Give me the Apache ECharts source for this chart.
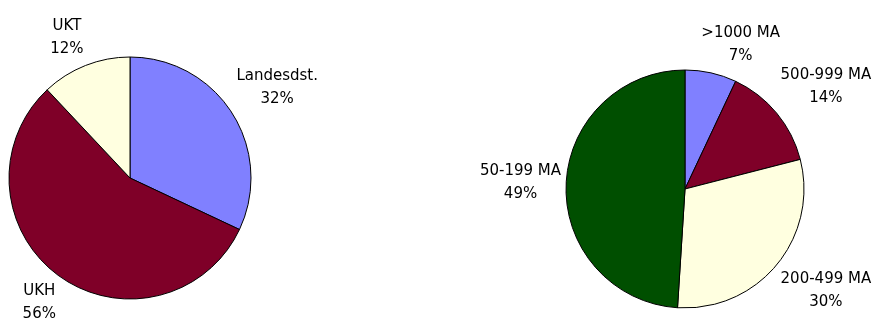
<!DOCTYPE html>
<html>
<head>
<meta charset="utf-8">
<script src="https://cdn.jsdelivr.net/npm/echarts@6/dist/echarts.min.js"></script>
<style>
  html, body { margin: 0; padding: 0; background: #fff; }
  #chart { width: 890px; height: 328px; }
</style>
</head>
<body>
<div id="chart"></div>
<script>
// Share of staff by employer
const employerNames = ['Landesdst.', 'UKH', 'UKT'];
const employerShares = [32, 56, 12];
const employerColors = ['#8080FF', '#7F0028', '#FFFFE0'];

// Share of units by size (employees)
const sizeNames = ['>1000 MA', '500-999 MA', '200-499 MA', '50-199 MA'];
const sizeShares = [7, 14, 30, 49];
const sizeColors = ['#8080FF', '#7F0028', '#FFFFE0', '#004F00'];

const LEFT_PIE = { cx: 130, cy: 178, r: 121 };
const RIGHT_PIE = { cx: 685, cy: 189, r: 119 };
const LABEL_GAP = 5;

function clampUnit(v) { return Math.max(-1, Math.min(1, v)); }

// Hang each label off the rim point at the slice's middle angle, with the
// box pushed outward by its own half size (smoothly near the axes).
function labelPlacer(pie, values) {
  const total = values.reduce((s, v) => s + v, 0);
  return function (p) {
    let before = 0;
    for (let i = 0; i < p.dataIndex; i++) before += values[i];
    const mid = (before + values[p.dataIndex] / 2) / total * 2 * Math.PI;
    const ux = Math.sin(mid), uy = -Math.cos(mid);
    const a = p.labelRect.width / 2, b = p.labelRect.height / 2;
    const t = pie.r + LABEL_GAP;
    return {
      x: pie.cx + t * ux + a * clampUnit(ux / 0.3),
      y: pie.cy + t * uy + b * clampUnit(uy / 0.3),
      align: 'center',
      verticalAlign: 'middle'
    };
  };
}

function pieSeries(pie, names, values, colors) {
  return {
    type: 'pie',
    center: [pie.cx, pie.cy],
    radius: pie.r,
    startAngle: 90,
    clockwise: true,
    avoidLabelOverlap: false,
    data: names.map((n, i) => ({ name: n, value: values[i], itemStyle: { color: colors[i] } })),
    itemStyle: { borderColor: '#000', borderWidth: 1 },
    label: {
      show: true,
      position: 'outside',
      formatter: '{b}\n{c}%',
      color: '#000',
      fontFamily: 'DejaVu Sans',
      fontSize: 15,
      lineHeight: 23
    },
    labelLine: { show: false },
    labelLayout: labelPlacer(pie, values),
    emphasis: { disabled: true }
  };
}

const chart = echarts.init(document.getElementById('chart'), null, { renderer: 'canvas' });
chart.setOption({
  animation: false,
  backgroundColor: '#fff',
  series: [
    pieSeries(LEFT_PIE, employerNames, employerShares, employerColors),
    pieSeries(RIGHT_PIE, sizeNames, sizeShares, sizeColors)
  ]
});
</script>
</body>
</html>
